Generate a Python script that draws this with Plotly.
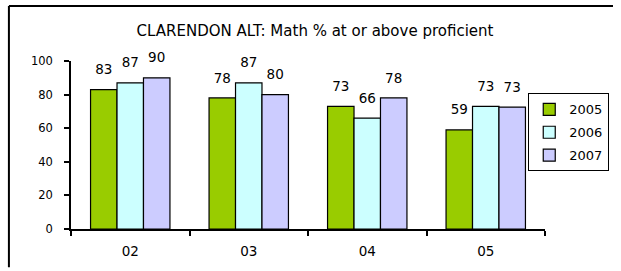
import plotly.graph_objects as go

categories = ["02", "03", "04", "05"]
series_names = ["2005", "2006", "2007"]
values_2005 = [83, 78, 73, 59]
values_2006 = [87, 87, 66, 73]
values_2007 = [90, 80, 78, 72.6]
series_values = [values_2005, values_2006, values_2007]
colors = ["#99CC00", "#CCFFFF", "#CCCCFF"]
y_ticks = [0, 20, 40, 60, 80, 100]

FONT = "DejaVu Sans"
W, H = 621, 271
ML, MR, MT, MB = 71, 69, 61, 39
PW, PH = W - ML - MR, H - MT - MB

fig = go.Figure()
for name, vals, col in zip(series_names, series_values, colors):
    fig.add_trace(go.Bar(
        x=categories, y=vals, name=name, legendgroup=name,
        marker=dict(color=col, line=dict(color="black", width=1.2)),
        texttemplate="<span style='font-size:13.5px'>%{y:.0f}</span><br>\u00a0",
        textposition="outside", constraintext="none",
        textfont=dict(family=FONT, size=8, color="black"),
        cliponaxis=False,
    ))

# outer frame (top and left edges only, kept inside the figure)
bx0 = (8 - ML) / PW
bx1 = (W - ML) / PW
by_top = 1 + (MT - 5) / PH
by_bot = -(MB) / PH

fig.update_layout(
    width=W, height=H,
    margin=dict(l=ML, r=MR, t=MT, b=MB),
    paper_bgcolor="white", plot_bgcolor="white",
    barmode="group", bargap=0.33, bargroupgap=0,
    font=dict(family=FONT, size=12, color="black"),
    title=dict(text="CLARENDON ALT: Math % at or above proficient",
               font=dict(family=FONT, size=15, color="black"),
               xref="container", x=315/W, xanchor="center",
               yref="container", y=1-31/H, yanchor="middle"),
    showlegend=True,
    legend=dict(x=(535-ML)/PW, xanchor="left", y=1-(94-MT)/PH, yanchor="top",
                bordercolor="black", borderwidth=1, bgcolor="white",
                font=dict(family=FONT, size=13, color="black"),
                tracegroupgap=3, itemwidth=30),
    xaxis=dict(showline=True, linecolor="black", linewidth=1.5,
               ticks="outside", ticklen=5, tickcolor="black", tickwidth=1.5,
               tickson="boundaries", showgrid=False,
               tickfont=dict(family=FONT, size=13.5), ticklabelstandoff=9),
    yaxis=dict(showline=True, linecolor="black", linewidth=1.5,
               range=[0, 100], tickvals=y_ticks,
               ticks="outside", ticklen=5, tickcolor="black", tickwidth=1.5,
               showgrid=False, zeroline=False,
               tickfont=dict(family=FONT, size=11.5), ticklabelstandoff=9),
    shapes=[
        dict(type="line", xref="paper", yref="paper",
             x0=bx0, x1=bx1, y0=by_top, y1=by_top,
             line=dict(color="black", width=2), layer="below"),
        dict(type="line", xref="paper", yref="paper",
             x0=bx0, x1=bx0, y0=by_bot, y1=by_top,
             line=dict(color="black", width=2), layer="below"),
    ],
)

fig.write_html(
    "out.html",
    config={"displayModeBar": False},
    post_script="document.body.style.margin='0px';document.body.style.overflow='hidden';",
)
